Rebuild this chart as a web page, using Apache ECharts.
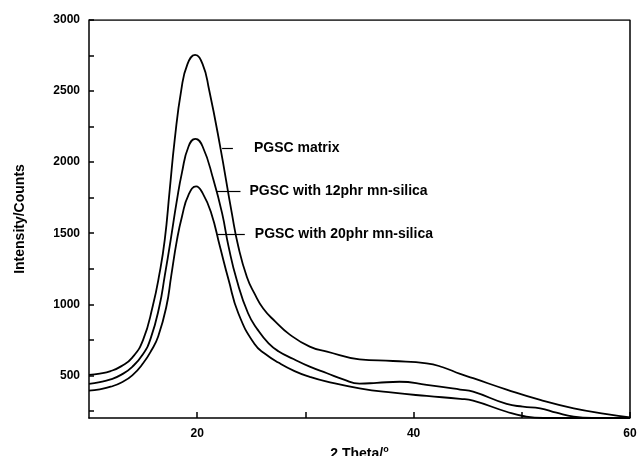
<!DOCTYPE html>
<html><head><meta charset="utf-8">
<script src="https://cdn.jsdelivr.net/npm/echarts@6/dist/echarts.min.js"></script>
<style>html,body{margin:0;padding:0;background:#fff}#c{width:638px;height:456px}</style>
</head><body><div id="c"></div>
<script>
const xTickLabels = [20, 40, 60];
const xTickMarks = [20, 30, 40, 50, 60];
const yTickLabels = [500, 1000, 1500, 2000, 2500, 3000];
const yTickMarks = [250, 500, 750, 1000, 1250, 1500, 1750, 2000, 2250, 2500, 2750, 3000];
const seriesNames = ['PGSC matrix', 'PGSC with 12phr mn-silica', 'PGSC with 20phr mn-silica'];
const matrix = [[10,503],[11,512],[12,530],[13,565],[14,625],[15,750],[15.9,990],[16.5,1210],[17.0,1453],[17.46,1805],[17.92,2157],[18.53,2509],[19.1,2690],[19.8,2755],[20.5,2690],[21.1,2509],[22.1,2120],[23.2,1641],[23.8,1406],[24.6,1190],[25.3,1075],[26.1,970],[27.2,880],[28.5,790],[30.4,702],[32.0,667],[35.0,613],[38.1,601],[41.2,585],[42.7,557],[44.3,510],[45.5,480],[48.6,400],[51.7,327],[54.8,268],[57.85,228],[60,205]];
const phr12 = [[10,440],[11,452],[12,472],[13,505],[14,560],[15,650],[15.7,760],[16.5,984],[17.0,1200],[17.55,1453],[18.1,1720],[18.6,1930],[19.2,2110],[19.83,2164],[20.5,2110],[21.5,1876],[22.3,1641],[22.9,1406],[23.65,1172],[24.7,937],[25.6,820],[26.6,725],[27.5,670],[28.9,615],[30.4,561],[32.0,515],[33.5,472],[35.0,442],[36.6,447],[38.7,455],[41.2,433],[44.3,400],[45.5,385],[48.6,299],[50.1,280],[51.7,268],[53.2,237],[54.8,209],[56.5,200],[60,200]];
const phr20 = [[10,392],[11,402],[12,420],[13,450],[14,500],[15,585],[15.8,680],[16.4,775],[17.15,984],[17.6,1200],[18.13,1453],[18.6,1620],[19.2,1770],[19.9,1829],[20.5,1782],[21.3,1641],[22.1,1406],[22.9,1172],[23.8,937],[25.3,720],[26.3,650],[27.5,590],[29.0,530],[30.4,490],[32.0,456],[35.0,409],[38.1,378],[41.2,355],[44.3,335],[45.5,322],[48.6,244],[50.1,214],[52,200],[60,200]];
const annot = [
  {y: 2100, x0: 22.3, x1: 23.3},
  {y: 1798, x0: 21.8, x1: 24.0},
  {y: 1495, x0: 21.9, x1: 24.4}
];
const labelGap = [21, 9, 10];

const chart = echarts.init(document.getElementById('c'));
const font = 'Liberation Sans, Arial, sans-serif';
const data = [matrix, phr12, phr20];
chart.setOption({
  animation: false,
  grid: {left: 89, right: 8, top: 20, bottom: 38, outerBoundsMode: 'none', containLabel: false},
  xAxis: {
    type: 'value', min: 10, max: 60, interval: 10,
    name: '2 Theta/{s|o}', nameLocation: 'middle', nameGap: 20,
    nameTextStyle: {fontFamily: font, fontWeight: 'bold', fontSize: 14, color: '#000',
      rich: {s: {fontSize: 9, fontWeight: 'bold', verticalAlign: 'top', padding: [0,0,10,0]}}},
    axisLine: {onZero: false, lineStyle: {color: '#000', width: 1.5}},
    axisTick: {inside: true, length: 6, lineStyle: {color: '#000', width: 1.5}, customValues: xTickMarks},
    axisLabel: {fontFamily: font, fontWeight: 'bold', fontSize: 12, color: '#000', margin: 10,
      customValues: xTickLabels, formatter: v => String(v)},
    splitLine: {show: false}
  },
  yAxis: {
    type: 'value', min: 200, max: 3000,
    name: 'Intensity/Counts', nameLocation: 'middle', nameGap: 62,
    nameTextStyle: {fontFamily: font, fontWeight: 'bold', fontSize: 14, color: '#000'},
    axisLine: {onZero: false, lineStyle: {color: '#000', width: 1.5}},
    axisTick: {inside: true, length: 5, lineStyle: {color: '#000', width: 1.5}, customValues: yTickMarks},
    axisLabel: {fontFamily: font, fontWeight: 'bold', fontSize: 12, color: '#000', margin: 9,
      customValues: yTickLabels, formatter: v => String(v)},
    splitLine: {show: false}
  },
  series: data.map((d, i) => ({
    type: 'line', name: seriesNames[i], data: d, smooth: 0.5, symbol: 'none',
    lineStyle: {color: '#000', width: 1.8},
    markLine: {
      silent: true, symbol: 'none', animation: false,
      lineStyle: {color: '#000', width: 1.2, type: 'solid'},
      label: {show: true, position: 'end', distance: labelGap[i], formatter: seriesNames[i],
        fontFamily: font, fontWeight: 'bold', fontSize: 14, color: '#000'},
      data: [[{coord: [annot[i].x0, annot[i].y]}, {coord: [annot[i].x1, annot[i].y]}]]
    }
  })).concat([{
    type: 'line', data: [[10,3000],[60,3000],[60,200]], symbol: 'none', silent: true,
    lineStyle: {color: '#000', width: 1.5}, z: 1
  }])
});
</script></body></html>
